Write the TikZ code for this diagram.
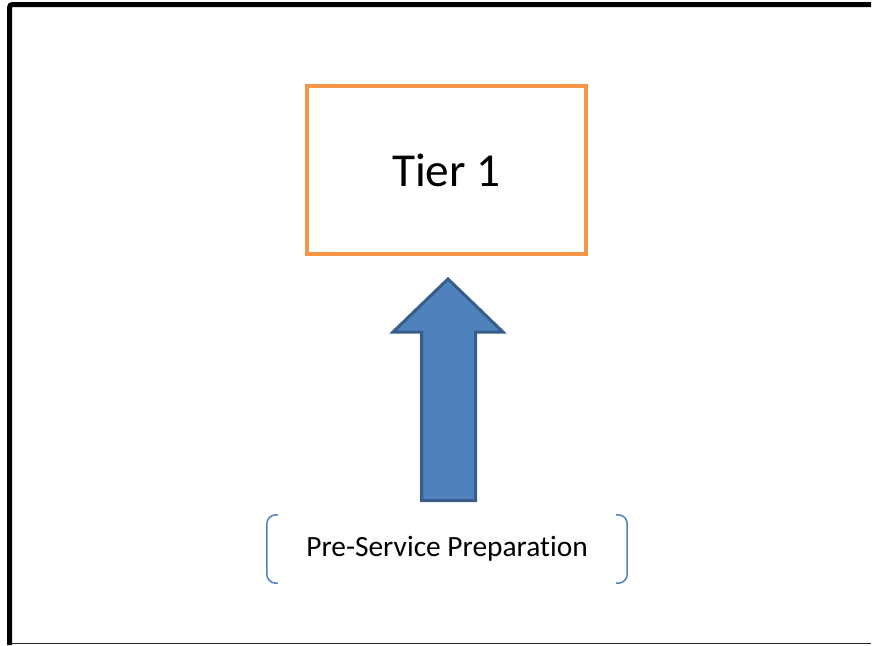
\documentclass[tikz,border=0pt]{standalone}
\usepackage{fontspec}
\setmainfont{Carlito}[Ligatures=NoCommon]
\definecolor{tierorange}{HTML}{F79646}
\definecolor{arrowfill}{HTML}{4F81BD}
\definecolor{arrowline}{HTML}{385D8A}
\tikzset{
  tierbox/.style={draw=tierorange,line width=4pt,minimum width=278.7pt,minimum height=168pt,inner sep=0pt,font=\fontsize{47.3}{50}\selectfont},
  prepbox/.style={minimum width=360pt,minimum height=68pt,inner sep=0pt,font=\fontsize{29.4}{32}\selectfont},
  bracket/.style={draw=arrowfill,line width=1.5pt,rounded corners=9pt}
}
\begin{document}
\begin{tikzpicture}[x=1pt,y=-1pt]
    \useasboundingbox (0,0) rectangle (877,645);
    % frame
    \draw[line width=5pt,rounded corners=3pt] (9.5,645) -- (9.5,4.5) -- (871,4.5);
    \draw[line width=1.2pt,black!85] (9.5,643.5) -- (871,643.5);
    \node[tierbox] (T1) at (446.4,170) {Tier 1};
    \node[prepbox] (P) at (447,549) {Pre-Service Preparation};
    \draw[bracket] ([xshift=11pt]P.north west) -- (P.north west) -- (P.south west) -- ([xshift=11pt]P.south west);
    \draw[bracket] ([xshift=-11pt]P.north east) -- (P.north east) -- (P.south east) -- ([xshift=-11pt]P.south east);
    % block arrow
    \coordinate (tip) at (448,279);
    \draw[fill=arrowfill,draw=arrowline,line width=3pt,line join=miter]
        (tip) -- ++(55,53) -- ++(-27.5,0) -- ++(0,168.5) -- ++(-54,0) -- ++(0,-168.5) -- ++(-28.5,0) -- cycle;
\end{tikzpicture}
\end{document}
